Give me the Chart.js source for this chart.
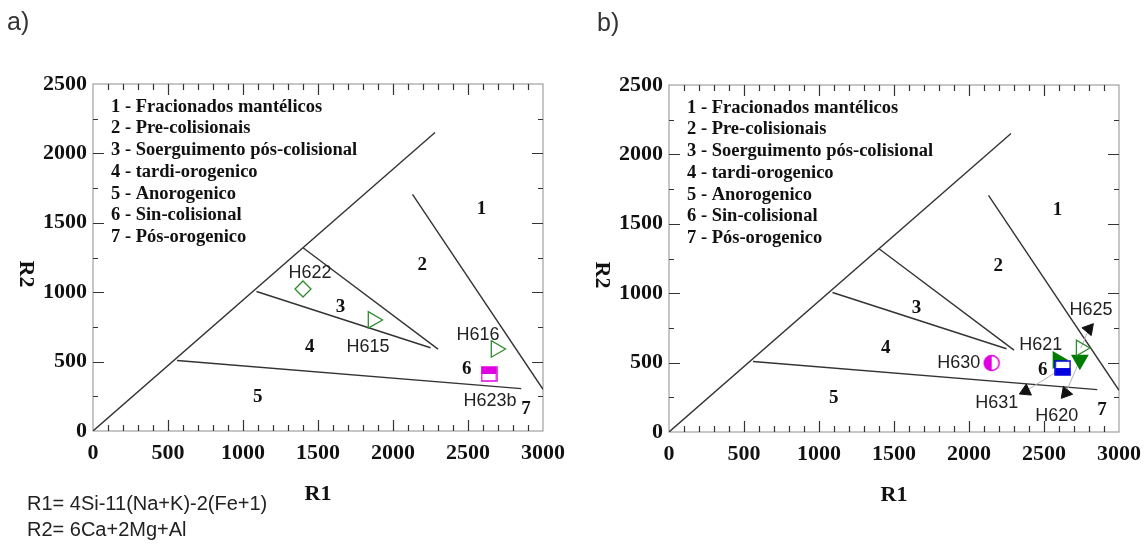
<!DOCTYPE html>
<html>
<head>
<meta charset="utf-8">
<script src="https://cdn.jsdelivr.net/npm/chart.js@4.4.0/dist/chart.umd.min.js"></script>
<style>
  body { margin: 0; background: #fff; width: 1148px; height: 544px; overflow: hidden; position: relative; }
  .panel { position: absolute; width: 574px; height: 544px; }
</style>
</head>
<body>
<div class="panel" style="left:0;top:0"><canvas id="chartA" width="574" height="544"></canvas></div>
<div class="panel" style="left:576px;top:1px"><canvas id="chartB" width="574" height="544"></canvas></div>
<script>
// axis ticks
const r1Ticks = [0, 500, 1000, 1500, 2000, 2500, 3000];
const r2Ticks = [0, 500, 1000, 1500, 2000, 2500];

// field boundaries (R1, R2)
const diagonalR1 = [0, 2280];
const diagonalR2 = [0, 2150];
const field12R1 = [2130, 3000];
const field12R2 = [1705, 300];
const field3TopR1 = [1400, 2300];
const field3TopR2 = [1320, 590];
const field3BaseR1 = [1090, 2250];
const field3BaseR2 = [1005, 600];
const field45R1 = [560, 2855];
const field45R2 = [508, 305];

const fieldNames = ['1 - Fracionados mantélicos', '2 - Pre-colisionais', '3 - Soerguimento pós-colisional',
  '4 - tardi-orogenico', '5 - Anorogenico', '6 - Sin-colisional', '7 - Pós-orogenico'];
const fieldNumbers = ['1', '2', '3', '4', '5', '6', '7'];
const fieldNumR1 = [2590, 2195, 1650, 1445, 1098, 2492, 2886];
const fieldNumR2 = [1596, 1192, 893, 605, 245, 444, 155];

// samples, panel a)
const samplesA = ['H622', 'H615', 'H616', 'H623b'];
const r1A = [1400, 1867, 2687, 2640];
const r2A = [1023, 800, 591, 411];

// samples, panel b)
const samplesB = ['H630', 'H621', 'H631', 'H620', 'H625'];
const r1B = [2151, 2592, 2625, 2739, 2746];
const r2B = [497, 519, 461, 519, 605];

// pointer arrow heads in b)
const arrowSamples = ['H631', 'H620', 'H625'];
const arrowR1 = [2378, 2645, 2799];
const arrowR2 = [295, 281, 742];
const arrowRot = [5, 100, 40];

const green = 'rgb(45,140,45)';
const greenFill = 'rgb(0,125,0)';
const magenta = 'rgb(225,0,225)';
const blue = 'rgb(0,0,225)';
const none = 'rgba(0,0,0,0)';

function halfSquare(color, topFilled) {
  const c = document.createElement('canvas');
  c.width = 17; c.height = 16;
  const g = c.getContext('2d');
  g.fillStyle = '#fff';
  g.fillRect(1, 1, 15, 14);
  g.fillStyle = color;
  if (topFilled) g.fillRect(1, 1, 15, 7); else g.fillRect(1, 8, 15, 7);
  g.strokeStyle = color;
  g.lineWidth = 1.5;
  g.strokeRect(1, 1, 15, 14);
  return c;
}

function halfCircle(color) {
  const c = document.createElement('canvas');
  c.width = 18; c.height = 18;
  const g = c.getContext('2d');
  g.beginPath(); g.arc(9, 9, 7.5, 0, Math.PI * 2);
  g.fillStyle = '#fff'; g.fill();
  g.beginPath(); g.arc(9, 9, 7.5, Math.PI / 2, Math.PI * 1.5); g.closePath();
  g.fillStyle = color; g.fill();
  g.beginPath(); g.arc(9, 9, 7.5, 0, Math.PI * 2);
  g.strokeStyle = color; g.lineWidth = 1.5; g.stroke();
  return c;
}

// marker look + label offset (px) per sample
const sampleStyle = {
  H622:  { shape: 'rectRot', rot: 0, fill: none, line: green, r: 8, dx: 7, dy: -16 },
  H615:  { shape: 'triangle', rot: 90, fill: none, line: green, r: 9.5, dx: -5, dy: 27 },
  H616:  { shape: 'triangle', rot: 90, fill: none, line: green, r: 9.5, dx: -18, dy: -14 },
  H623b: { shape: halfSquare(magenta, true), rot: 0, fill: none, line: magenta, r: 8, dx: 1, dy: 27 },
  H630:  { shape: halfCircle(magenta), rot: 0, fill: none, line: magenta, r: 8, dx: -33, dy: 0 },
  H621:  { shape: 'triangle', rot: 90, fill: greenFill, line: greenFill, r: 9, dx: -17, dy: -15 },
  H631:  { shape: halfSquare(blue, false), rot: 0, fill: none, line: blue, r: 8, dx: -66, dy: 35 },
  H620:  { shape: 'triangle', rot: 180, fill: greenFill, line: greenFill, r: 9, dx: -23, dy: 56 },
  H625:  { shape: 'triangle', rot: 90, fill: none, line: green, r: 9, dx: 10, dy: -38 }
};

function pts(r1, r2) {
  return r1.map((v, i) => ({ x: v, y: r2[i] }));
}

function segment(r1, r2, color, width) {
  return { data: pts(r1, r2), showLine: true, pointRadius: 0, borderColor: color, borderWidth: width, fill: false };
}

function sampleSet(names, r1, r2) {
  return {
    data: pts(r1, r2),
    showLine: false,
    pointStyle: names.map(n => sampleStyle[n].shape),
    pointRotation: names.map(n => sampleStyle[n].rot),
    pointRadius: names.map(n => sampleStyle[n].r),
    pointBackgroundColor: names.map(n => sampleStyle[n].fill),
    pointBorderColor: names.map(n => sampleStyle[n].line),
    pointBorderWidth: 1.3
  };
}

function fieldLines() {
  const c = '#333';
  return [
    segment(diagonalR1, diagonalR2, c, 1.4),
    segment(field12R1, field12R2, c, 1.4),
    segment(field3TopR1, field3TopR2, c, 1.4),
    segment(field3BaseR1, field3BaseR2, c, 1.4),
    segment(field45R1, field45R2, c, 1.4)
  ];
}

const diagramPlugin = {
  id: 'diagram',
  beforeDatasetsDraw(chart) {
    const { ctx, chartArea: a, scales: { x, y } } = chart;
    ctx.save();
    ctx.strokeStyle = '#a0a0a0';
    ctx.lineWidth = 1.2;
    ctx.strokeRect(a.left, a.top, a.right - a.left, a.bottom - a.top);
    ctx.strokeStyle = '#333';
    ctx.lineWidth = 1.2;
    ctx.beginPath();
    for (let v = 100; v < 3000; v += 100) {
      const px = Math.round(x.getPixelForValue(v)) + 0.5;
      const len = v % 500 === 0 ? 11 : 6;
      ctx.moveTo(px, a.bottom); ctx.lineTo(px, a.bottom - len);
      ctx.moveTo(px, a.top); ctx.lineTo(px, a.top + len);
    }
    for (let v = 250; v < 2500; v += 250) {
      const py = Math.round(y.getPixelForValue(v)) + 0.5;
      const len = v % 500 === 0 ? 11 : 5;
      ctx.moveTo(a.left, py); ctx.lineTo(a.left + len, py);
      ctx.moveTo(a.right, py); ctx.lineTo(a.right - len, py);
    }
    ctx.stroke();
    ctx.restore();
  },
  afterDatasetsDraw(chart, args, opts) {
    const { ctx, chartArea: a, scales: { x, y } } = chart;
    ctx.save();
    ctx.textBaseline = 'middle';
    ctx.fillStyle = '#111';

    // field legend
    ctx.textAlign = 'left';
    ctx.font = 'bold 18.5px "Liberation Serif"';
    fieldNames.forEach((t, i) => ctx.fillText(t, a.left + 18, a.top + 23 + i * 21.7));

    // field numbers
    ctx.textAlign = 'center';
    ctx.font = 'bold 19px "Liberation Serif"';
    fieldNumbers.forEach((t, i) => ctx.fillText(t, x.getPixelForValue(fieldNumR1[i]), y.getPixelForValue(fieldNumR2[i])));

    // sample labels
    ctx.font = '18px "Liberation Sans"';
    ctx.fillStyle = '#222';
    const meta = chart.getDatasetMeta(0);
    opts.samples.forEach((n, i) => {
      const p = meta.data[i];
      ctx.fillText(n, p.x + sampleStyle[n].dx, p.y + sampleStyle[n].dy);
    });

    // axis titles
    ctx.fillStyle = '#111';
    ctx.font = 'bold 22px "Liberation Serif"';
    ctx.fillText('R1', (a.left + a.right) / 2, 494);
    ctx.save();
    ctx.translate(26, 274);
    ctx.rotate(Math.PI / 2);
    ctx.fillText('R2', 0, 0);
    ctx.restore();

    // panel letter
    ctx.textAlign = 'left';
    ctx.fillStyle = '#333';
    ctx.font = '25px "Liberation Sans"';
    ctx.fillText(opts.letter, opts.letterX, 23);

    if (opts.formula) {
      ctx.fillStyle = '#222';
      ctx.font = '20px "Liberation Sans"';
      ctx.fillText('R1= 4Si-11(Na+K)-2(Fe+1)', 27, 504);
      ctx.fillText('R2= 6Ca+2Mg+Al', 27, 530);
    }
    ctx.restore();
  }
};

const tickFont = { family: "'Liberation Serif', serif", size: 22, weight: 'bold' };
const plain = v => String(v);

function makeChart(id, datasets, extra) {
  return new Chart(document.getElementById(id), {
    type: 'scatter',
    data: { datasets },
    options: {
      responsive: false,
      animation: false,
      events: [],
      layout: { padding: { left: 0, right: 31, top: 84, bottom: 0 } },
      plugins: { legend: { display: false }, tooltip: { enabled: false }, diagram: extra },
      scales: {
        x: {
          type: 'linear', min: 0, max: 3000,
          afterFit: s => { s.height = 113; },
          afterBuildTicks: s => { s.ticks = r1Ticks.map(v => ({ value: v })); },
          grid: { display: false, drawTicks: false },
          border: { display: false },
          ticks: { font: tickFont, color: '#111', padding: 9, maxRotation: 0, autoSkip: false, callback: plain }
        },
        y: {
          type: 'linear', min: 0, max: 2500,
          afterFit: s => { s.width = 93; },
          afterBuildTicks: s => { s.ticks = r2Ticks.map(v => ({ value: v })); },
          grid: { display: false, drawTicks: false },
          border: { display: false },
          ticks: { font: tickFont, color: '#111', padding: 6, autoSkip: false, callback: plain }
        }
      }
    },
    plugins: [diagramPlugin]
  });
}

makeChart('chartA', [sampleSet(samplesA, r1A, r2A), ...fieldLines()],
  { letter: 'a)', letterX: 7, samples: samplesA, formula: true });

const leaders = arrowSamples.map((n, i) => {
  const k = samplesB.indexOf(n);
  return segment([r1B[k], arrowR1[i]], [r2B[k], arrowR2[i]], '#b4b4b4', 1);
});
const arrowHeads = {
  data: pts(arrowR1, arrowR2),
  showLine: false,
  pointStyle: 'triangle',
  pointRotation: arrowRot,
  pointRadius: 7,
  pointBackgroundColor: '#111',
  pointBorderColor: '#111',
  pointBorderWidth: 1
};
makeChart('chartB', [sampleSet(samplesB, r1B, r2B), arrowHeads, ...leaders, ...fieldLines()],
  { letter: 'b)', letterX: 21, samples: samplesB, formula: false });
</script>
</body>
</html>
